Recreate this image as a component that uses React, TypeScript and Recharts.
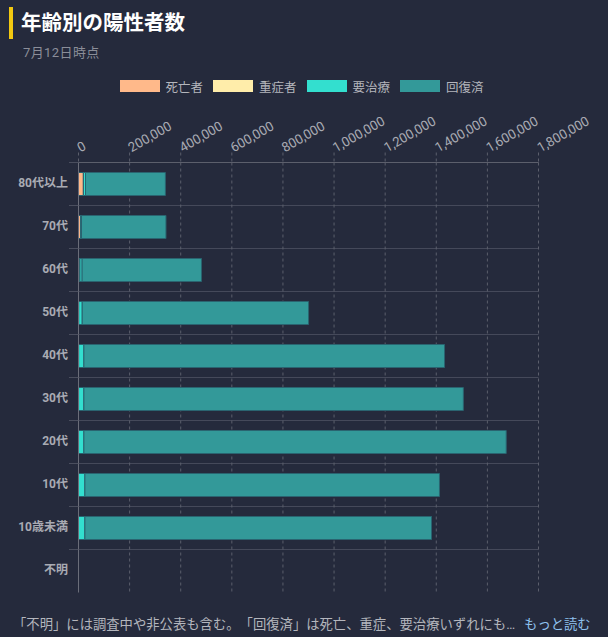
import React from 'react';
import { BarChart, Bar, XAxis, YAxis, CartesianGrid } from 'recharts';

const ages = ['80代以上', '70代', '60代', '50代', '40代', '30代', '20代', '10代', '10歳未満', '不明'];
const deaths = [19000, 7800, 3000, 500, 300, 150, 80, 40, 40, 0];
const severe = [600, 800, 2800, 300, 200, 100, 40, 20, 20, 0];
const care = [7800, 3100, 8200, 13700, 20600, 20800, 21000, 24900, 24900, 0];
const recovered = [312600, 330600, 467200, 885700, 1411200, 1484850, 1652480, 1387440, 1356440, 0];
const xTicks = [0, 200000, 400000, 600000, 800000, 1000000, 1200000, 1400000, 1600000, 1800000];

const seriesNames = ['死亡者', '重症者', '要治療', '回復済'];
const seriesKeys = ['deaths', 'severe', 'care', 'recovered'];
const seriesColors = ['#ffb98a', '#ffedaa', '#33dfcf', '#339999'];

const rows = ages.map((age, i) => ({
    age,
    deaths: deaths[i],
    severe: severe[i],
    care: care[i],
    recovered: recovered[i],
}));

const BG = '#252a3c';
const FONT = 'Roboto, "Noto Sans CJK JP", sans-serif';
const BAND = 43;

const XTick = ({ x, y, payload }: any) => (
    <text
        x={x + 2}
        y={y + 2}
        transform={`rotate(-30 ${x + 2} ${y + 2})`}
        textAnchor="start"
        fontSize={13.3}
        fontFamily="Roboto, sans-serif"
        fill="#a9abb3"
    >
        {payload.value.toLocaleString('en-US')}
    </text>
);

const YTick = ({ x, y, payload }: any) => (
    <g>
        <line x1={x - 3.5} x2={x + 6} y1={y - BAND / 2} y2={y - BAND / 2} stroke="#4a4e5e" />
        <text x={x - 4.5} y={y} dy={3} textAnchor="end" fontSize={12} fontWeight={700} fontFamily={FONT} fill="#a9abb3">
            {payload.value}
        </text>
    </g>
);

const bandLines = ({ offset }: any) =>
    ages.map((_, i) => offset.top + (offset.height / ages.length) * i);

export default function App() {
    return (
        <div style={{ position: 'absolute', left: 0, top: 0, width: 608, height: 637, background: BG, overflow: 'hidden', fontFamily: FONT }}>
            <div style={{ position: 'absolute', left: 9, top: 7, width: 4, height: 32, background: '#f2c811' }} />
            <div style={{ position: 'absolute', left: 21, top: 9, fontSize: 20.5, lineHeight: '28px', fontWeight: 700, color: '#fff', whiteSpace: 'nowrap' }}>
                年齢別の陽性者数
            </div>
            <div style={{ position: 'absolute', left: 23, top: 44, fontSize: 13, letterSpacing: 0.4, lineHeight: '18px', color: '#8b8e99', whiteSpace: 'nowrap' }}>
                7月12日時点
            </div>
            {seriesNames.map((name, i) => (
                <div key={name} style={{ position: 'absolute', left: 119.5 + i * 93.5, top: 77, height: 18, display: 'flex', alignItems: 'center', whiteSpace: 'nowrap' }}>
                    <span style={{ display: 'inline-block', width: 40, height: 12, background: seriesColors[i], marginRight: 6 }} />
                    <span style={{ fontSize: 12.5, color: '#b4b6bd' }}>{name}</span>
                </div>
            ))}
            <BarChart
                width={608}
                height={637}
                data={rows}
                layout="vertical"
                barCategoryGap={10}
                margin={{ top: 132.5, right: 69.5, bottom: 44.5, left: 0 }}
            >
                <CartesianGrid
                    stroke="#45495a"
                    vertical={false}
                    horizontalCoordinatesGenerator={bandLines}
                />
                <XAxis
                    type="number"
                    orientation="top"
                    domain={[0, 1800000]}
                    ticks={xTicks}
                    interval={0}
                    height={30}
                    axisLine={{ stroke: '#5c5f6c' }}
                    tickSize={10}
                    tickLine={{ stroke: '#5c5f6c', strokeDasharray: '3 3' }}
                    tick={<XTick />}
                />
                <YAxis
                    type="category"
                    dataKey="age"
                    width={78.5}
                    interval={0}
                    axisLine={{ stroke: '#6a6d79' }}
                    tickLine={false}
                    tickMargin={0}
                    tick={<YTick />}
                />
                <CartesianGrid
                    stroke="#5c5f6c"
                    strokeDasharray="3 3"
                    horizontal={false}
                    verticalValues={xTicks.slice(1)}
                />
                {seriesKeys.map((key, i) => (
                    <Bar
                        key={key}
                        dataKey={key}
                        name={seriesNames[i]}
                        stackId="total"
                        barSize={23}
                        fill={seriesColors[i]}
                        stroke="#2a6470"
                        strokeWidth={1}
                        isAnimationActive={false}
                    />
                ))}
            </BarChart>
            <div style={{ position: 'absolute', left: 13, top: 615, width: 590, fontSize: 13.33, lineHeight: '20px', color: '#b4b6bd', whiteSpace: 'nowrap', textSpacingTrim: 'space-all' } as any}>
                「不明」には調査中や非公表も含む。「回復済」は死亡、重症、要治療いずれにも…
                <span style={{ color: '#8fc1ee', marginLeft: 9 }}>もっと読む</span>
            </div>
        </div>
    );
}
